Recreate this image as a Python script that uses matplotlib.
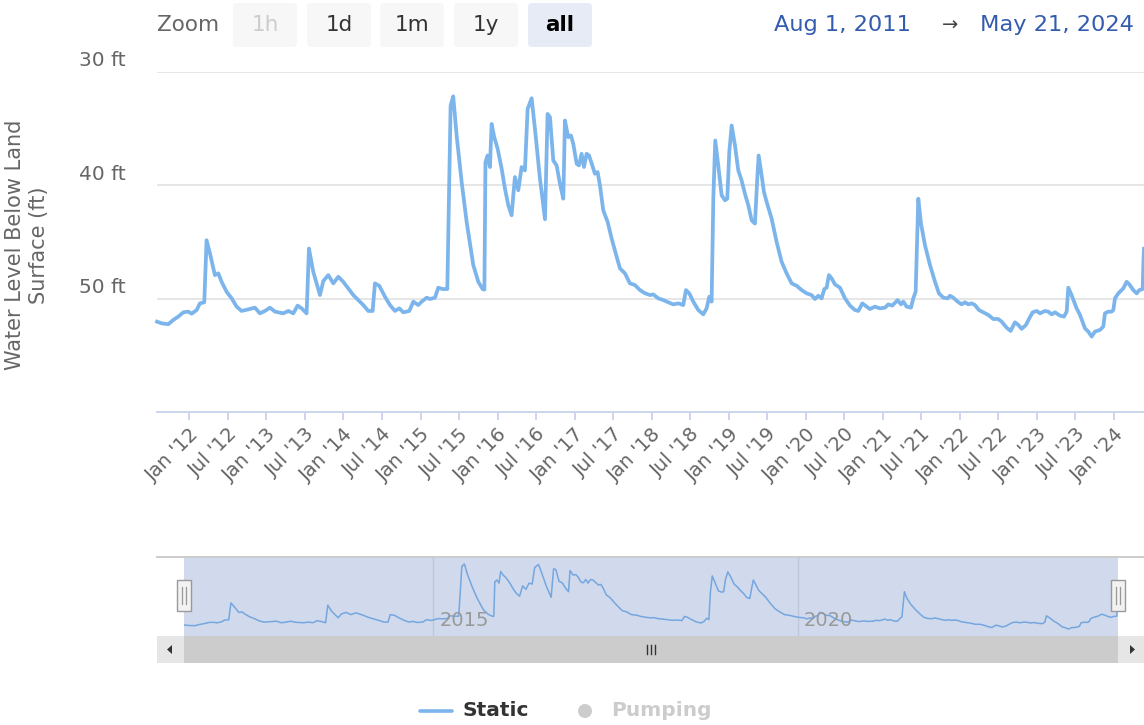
import datetime as dt
import matplotlib
matplotlib.use("Agg")
import matplotlib.pyplot as plt
from matplotlib.patches import FancyBboxPatch, Rectangle, Polygon, Circle

# ---------------- data ----------------
x_start = "2011-08-01"
x_end = "2024-05-21"

years = [
    2011.581, 2011.641, 2011.727, 2011.792, 2011.857, 2011.922, 2011.986,
    2012.030, 2012.095, 2012.138, 2012.194, 2012.224, 2012.268, 2012.332, 2012.376, 2012.419,
    2012.484, 2012.549, 2012.614, 2012.678, 2012.765, 2012.851, 2012.916, 2012.981,
    2013.046, 2013.111, 2013.219, 2013.284, 2013.349, 2013.405, 2013.457, 2013.522, 2013.552,
    2013.608, 2013.695, 2013.738,
    2013.803, 2013.868, 2013.933, 2013.997,
    2014.062, 2014.127, 2014.192, 2014.257, 2014.322, 2014.378, 2014.408, 2014.464, 2014.538,
    2014.603, 2014.668, 2014.724, 2014.776, 2014.854, 2014.906, 2014.970,
    2015.014, 2015.079, 2015.122, 2015.187, 2015.230, 2015.286, 2015.347, 2015.390, 2015.424,
    2015.468, 2015.533, 2015.598, 2015.684, 2015.749, 2015.805, 2015.828,
    2015.842, 2015.870, 2015.900, 2015.922, 2015.956,
    2016.000, 2016.052, 2016.095, 2016.138, 2016.181, 2016.224, 2016.268, 2016.311, 2016.354,
    2016.389, 2016.441, 2016.484, 2016.549, 2016.614, 2016.648, 2016.679, 2016.722, 2016.765,
    2016.808, 2016.852, 2016.873, 2016.916, 2016.951, 2016.981,
    2017.025, 2017.055, 2017.089, 2017.120, 2017.154, 2017.185, 2017.228, 2017.262, 2017.297,
    2017.327, 2017.370, 2017.427, 2017.479, 2017.544, 2017.587, 2017.652, 2017.716, 2017.781,
    2017.846, 2017.911, 2017.976,
    2018.019, 2018.084, 2018.149, 2018.214, 2018.279, 2018.344, 2018.408, 2018.443, 2018.486,
    2018.538, 2018.603, 2018.668, 2018.711, 2018.746, 2018.776, 2018.798, 2018.823, 2018.862,
    2018.906, 2018.949, 2018.979,
    2019.005, 2019.036, 2019.079, 2019.122, 2019.165, 2019.208, 2019.252, 2019.295, 2019.338,
    2019.368, 2019.386, 2019.425, 2019.455, 2019.490, 2019.554, 2019.619, 2019.684, 2019.749,
    2019.814, 2019.879, 2019.944,
    2020.009, 2020.073, 2020.117,
    2020.160, 2020.203, 2020.238, 2020.268, 2020.298, 2020.333, 2020.376, 2020.441, 2020.506,
    2020.571, 2020.636, 2020.679, 2020.731, 2020.787, 2020.830, 2020.895, 2020.960,
    2021.025, 2021.068, 2021.120, 2021.189, 2021.232, 2021.263, 2021.306, 2021.362, 2021.392,
    2021.423, 2021.457, 2021.492, 2021.544, 2021.609, 2021.674, 2021.725, 2021.782, 2021.838,
    2021.868, 2021.911, 2021.968,
    2022.019, 2022.063, 2022.106, 2022.149, 2022.192, 2022.244,
    2022.300, 2022.365, 2022.430, 2022.495, 2022.538, 2022.603, 2022.655, 2022.711, 2022.755,
    2022.798, 2022.854, 2022.897, 2022.941, 2022.993,
    2023.036, 2023.101, 2023.144, 2023.187, 2023.230, 2023.295, 2023.347, 2023.382, 2023.403,
    2023.446, 2023.511, 2023.555, 2023.619, 2023.663, 2023.706, 2023.749, 2023.814, 2023.857,
    2023.879, 2023.922, 2023.965, 2023.987,
    2024.009, 2024.052, 2024.117, 2024.160, 2024.195, 2024.246, 2024.290, 2024.324, 2024.368,
    2024.376, 2024.385,
]

depth_ft = [
    52.02, 52.17, 52.25, 51.87, 51.58, 51.20, 51.14,
    51.32, 51.00, 50.41, 50.32, 44.85, 46.02, 47.92, 47.77, 48.51,
    49.39, 49.97, 50.70, 51.08, 50.94, 50.79, 51.29, 51.08,
    50.79, 51.14, 51.29, 51.08, 51.29, 50.61, 50.85, 51.29, 45.58,
    47.63, 49.68, 48.45,
    47.92, 48.65, 48.07, 48.51,
    49.09, 49.68, 50.12, 50.56, 51.08, 51.08, 48.65, 48.86, 49.82,
    50.56, 51.08, 50.85, 51.20, 51.08, 50.26, 50.56,
    50.26, 49.91, 50.03, 49.91, 49.03, 49.15, 49.15, 32.99, 32.17,
    35.62, 39.72, 43.24, 47.04, 48.51, 49.15, 49.20,
    37.96, 37.38, 38.40, 34.60, 35.77,
    36.79, 38.55, 40.31, 41.77, 42.65, 39.28, 40.45, 38.40, 38.70,
    33.28, 32.34, 35.04, 39.43, 43.00, 33.72, 34.01, 37.82, 38.26,
    39.87, 41.19, 34.30, 35.77, 35.62, 36.35,
    38.11, 38.26, 37.23, 38.40, 37.23, 37.38, 38.26, 38.99, 38.84,
    40.01, 42.21, 43.24, 44.70, 46.31, 47.33, 47.77, 48.65, 48.80,
    49.24, 49.52, 49.68,
    49.62, 49.97, 50.12, 50.32, 50.50, 50.41, 50.56, 49.24, 49.53,
    50.26, 51.00, 51.38, 50.85, 49.82, 50.26, 41.19, 36.06, 38.26,
    40.89, 41.33, 41.19,
    37.09, 34.74, 36.50, 38.70, 39.58, 40.75, 41.77, 43.09, 43.38,
    39.43, 37.38, 39.14, 40.60, 41.48, 42.94, 44.99, 46.75, 47.77,
    48.65, 48.86, 49.24,
    49.53, 49.68, 50.03,
    49.74, 49.97, 49.15, 49.03, 47.92, 48.21, 48.74, 49.03, 49.97,
    50.61, 51.00, 51.08, 50.41, 50.70, 50.91, 50.70, 50.85,
    50.79, 50.50, 50.61, 50.12, 50.50, 50.26, 50.70, 50.79, 49.97,
    49.39, 41.19, 43.38, 45.29, 47.04, 48.51, 49.53, 49.91, 49.97,
    49.74, 49.91, 50.26,
    50.50, 50.32, 50.50, 50.41, 50.56, 51.00,
    51.20, 51.43, 51.79, 51.79, 52.02, 52.55, 52.84, 52.08, 52.31,
    52.66, 52.31, 51.73, 51.20, 51.08,
    51.29, 51.08, 51.14, 51.38, 51.20, 51.49, 51.58, 51.14, 49.03,
    49.68, 50.85, 51.43, 52.61, 52.90, 53.34, 52.90, 52.75, 52.46,
    51.29, 51.14, 51.14, 51.00,
    49.97, 49.53, 49.09, 48.51, 48.74, 49.24, 49.53, 49.24, 49.15,
    47.04, 45.60,
]

y_ticks = [30, 40, 50]
y_tick_labels = ["30 ft", "40 ft", "50 ft"]
y_range = [60, 30]

x_tick_dates = ["2012-01-01", "2012-07-01", "2013-01-01", "2013-07-01", "2014-01-01",
                "2014-07-01", "2015-01-01", "2015-07-01", "2016-01-01", "2016-07-01",
                "2017-01-01", "2017-07-01", "2018-01-01", "2018-07-01", "2019-01-01",
                "2019-07-01", "2020-01-01", "2020-07-01", "2021-01-01", "2021-07-01",
                "2022-01-01", "2022-07-01", "2023-01-01", "2023-07-01", "2024-01-01"]
x_tick_labels = ["Jan '12", "Jul '12", "Jan '13", "Jul '13", "Jan '14", "Jul '14",
                 "Jan '15", "Jul '15", "Jan '16", "Jul '16", "Jan '17", "Jul '17",
                 "Jan '18", "Jul '18", "Jan '19", "Jul '19", "Jan '20", "Jul '20",
                 "Jan '21", "Jul '21", "Jan '22", "Jul '22", "Jan '23", "Jul '23",
                 "Jan '24"]

nav_ticks = [2015, 2020]
nav_tick_labels = ["2015", "2020"]

zoom_buttons = ["1h", "1d", "1m", "1y", "all"]
zoom_state = ["disabled", "normal", "normal", "normal", "selected"]
date_from_label = "Aug 1, 2011"
date_to_label = "May 21, 2024"
y_title = "Water Level Below Land\nSurface (ft)"
legend_labels = ["Static", "Pumping"]


def dec_year(s):
    d = dt.date.fromisoformat(s)
    a = dt.date(d.year, 1, 1)
    b = dt.date(d.year + 1, 1, 1)
    return d.year + (d - a).days / (b - a).days


# ---------------- figure ----------------
W, H = 1144, 725
plt.rcParams['font.family'] = ['DejaVu Sans']
fig = plt.figure(figsize=(W / 100, H / 100), dpi=100)
fig.patch.set_facecolor('white')

LINE = '#7cb5ec'
LABEL = '#666666'


def frac_box(left, top, right, bottom):
    return [left / W, 1 - bottom / H, (right - left) / W, (bottom - top) / H]


x0, x1 = dec_year(x_start), dec_year(x_end)

# main plot
ax = fig.add_axes(frac_box(157, 71.7, 1144, 412.2), zorder=2)
ax.patch.set_alpha(0)
ax.set_xlim(x0, x1)
ax.set_ylim(*y_range)
for s in ['top', 'left', 'right']:
    ax.spines[s].set_visible(False)
ax.spines['bottom'].set_color('#ccd6eb')
ax.spines['bottom'].set_linewidth(1.4)
ax.set_yticks(y_ticks)
ax.yaxis.grid(True, color='#e6e6e6', lw=1.4)
ax.set_axisbelow(True)
ax.tick_params(axis='y', length=0, labelleft=False)
ax.set_xticks([dec_year(d) for d in x_tick_dates])
ax.set_xticklabels(x_tick_labels)
ax.tick_params(axis='x', length=6, width=1.4, color='#ccd6eb', labelsize=14,
               labelcolor=LABEL, pad=3)
for lab in ax.get_xticklabels():
    lab.set_rotation(45)
    lab.set_ha('right')
    lab.set_rotation_mode('anchor')
ax.plot(years, depth_ft, color=LINE, lw=2.7, solid_joinstyle='round', clip_on=False, zorder=3)
for v, lab in zip(y_ticks, y_tick_labels):
    ax.annotate(lab, xy=(0, v), xycoords=ax.get_yaxis_transform(), xytext=(-31, 11),
                textcoords='offset pixels', ha='right', va='center', fontsize=14.5, color=LABEL)

# navigator
nav = fig.add_axes(frac_box(184, 557, 1118, 636), zorder=2)
nav.patch.set_alpha(0)
nav.set_xlim(x0, x1)
nav.set_ylim(55.6, 29.9)
nav.axis('off')
for v, lab in zip(nav_ticks, nav_tick_labels):
    nav.axvline(v, color='#e6e6e6', lw=1.0, zorder=1)
    nav.annotate(lab, xy=(v, 0.2), xycoords=nav.get_xaxis_transform(), xytext=(6, 0),
                 textcoords='offset pixels', ha='left', va='center', fontsize=14,
                 color='#999999', zorder=5)
nav.plot(years, depth_ft, color=LINE, lw=1.1, zorder=2)
nav.axvspan(x0, x1, color=(102 / 255, 133 / 255, 194 / 255), alpha=0.3, lw=0, zorder=3)

# UI overlay in pixel coordinates
ui = fig.add_axes([0, 0, 1, 1], zorder=3)
ui.set_xlim(0, W)
ui.set_ylim(H, 0)
ui.axis('off')
ui.patch.set_alpha(0)

# range selector
ui.text(157, 25, 'Zoom', ha='left', va='center', fontsize=15.5, color=LABEL)
btn_x = [233, 307, 380, 454, 528]
for lab, bx, st in zip(zoom_buttons, btn_x, zoom_state):
    fill = '#e6ebf5' if st == 'selected' else '#f7f7f7'
    col = {'disabled': '#cccccc', 'normal': '#333333', 'selected': '#000000'}[st]
    ui.add_patch(FancyBboxPatch((bx, 3), 64, 44, boxstyle='round,pad=0,rounding_size=4',
                                fc=fill, ec='none'))
    ui.text(bx + 32, 25, lab, ha='center', va='center', fontsize=15.5, color=col,
            fontweight='bold' if st == 'selected' else 'normal')

ui.text(843, 25, date_from_label, ha='center', va='center', fontsize=16.2, color='#335cad')
ui.text(950, 25, '→', ha='center', va='center', fontsize=14, color='#444444')
ui.text(1057, 25, date_to_label, ha='center', va='center', fontsize=16.2, color='#335cad')

# y-axis title
ui.text(27, 245, y_title, rotation=90, ha='center', va='center', fontsize=15,
        color=LABEL, linespacing=1.2, multialignment='center')

# navigator outline and handles
ui.plot([157, 1144], [557, 557], color='#cccccc', lw=1.4)
for hx in [184, 1118]:
    ui.add_patch(Rectangle((hx - 7, 580), 14, 31, fc='#f2f2f2', ec='#999999', lw=1.0))
    for dx in (-2, 2):
        ui.plot([hx + dx, hx + dx], [587, 604], color='#999999', lw=0.9)

# scrollbar
ui.add_patch(Rectangle((157, 636), 987, 27, fc='#f2f2f2', ec='none'))
ui.add_patch(Rectangle((184, 636), 934, 27, fc='#cccccc', ec='none'))
ui.add_patch(Rectangle((157, 636), 27, 27, fc='#e6e6e6', ec='none'))
ui.add_patch(Rectangle((1118, 636), 26, 27, fc='#e6e6e6', ec='none'))
ui.add_patch(Polygon([(167, 649.5), (172, 645), (172, 654)], closed=True, fc='#333333', ec='none'))
ui.add_patch(Polygon([(1135, 649.5), (1130, 645), (1130, 654)], closed=True, fc='#333333', ec='none'))
for gx in (647, 651, 655):
    ui.plot([gx, gx], [645, 654], color='#333333', lw=1.0)

# legend
ui.plot([420, 452], [711, 711], color=LINE, lw=2.6, solid_capstyle='round')
ui.text(462, 711, legend_labels[0], ha='left', va='center', fontsize=14.5,
        fontweight='bold', color='#333333')
ui.add_patch(Circle((585, 711), 7, fc='#cccccc', ec='none'))
ui.text(611, 711, legend_labels[1], ha='left', va='center', fontsize=14.5,
        fontweight='bold', color='#cccccc')

fig.savefig('out.png', dpi=100, facecolor='white')
